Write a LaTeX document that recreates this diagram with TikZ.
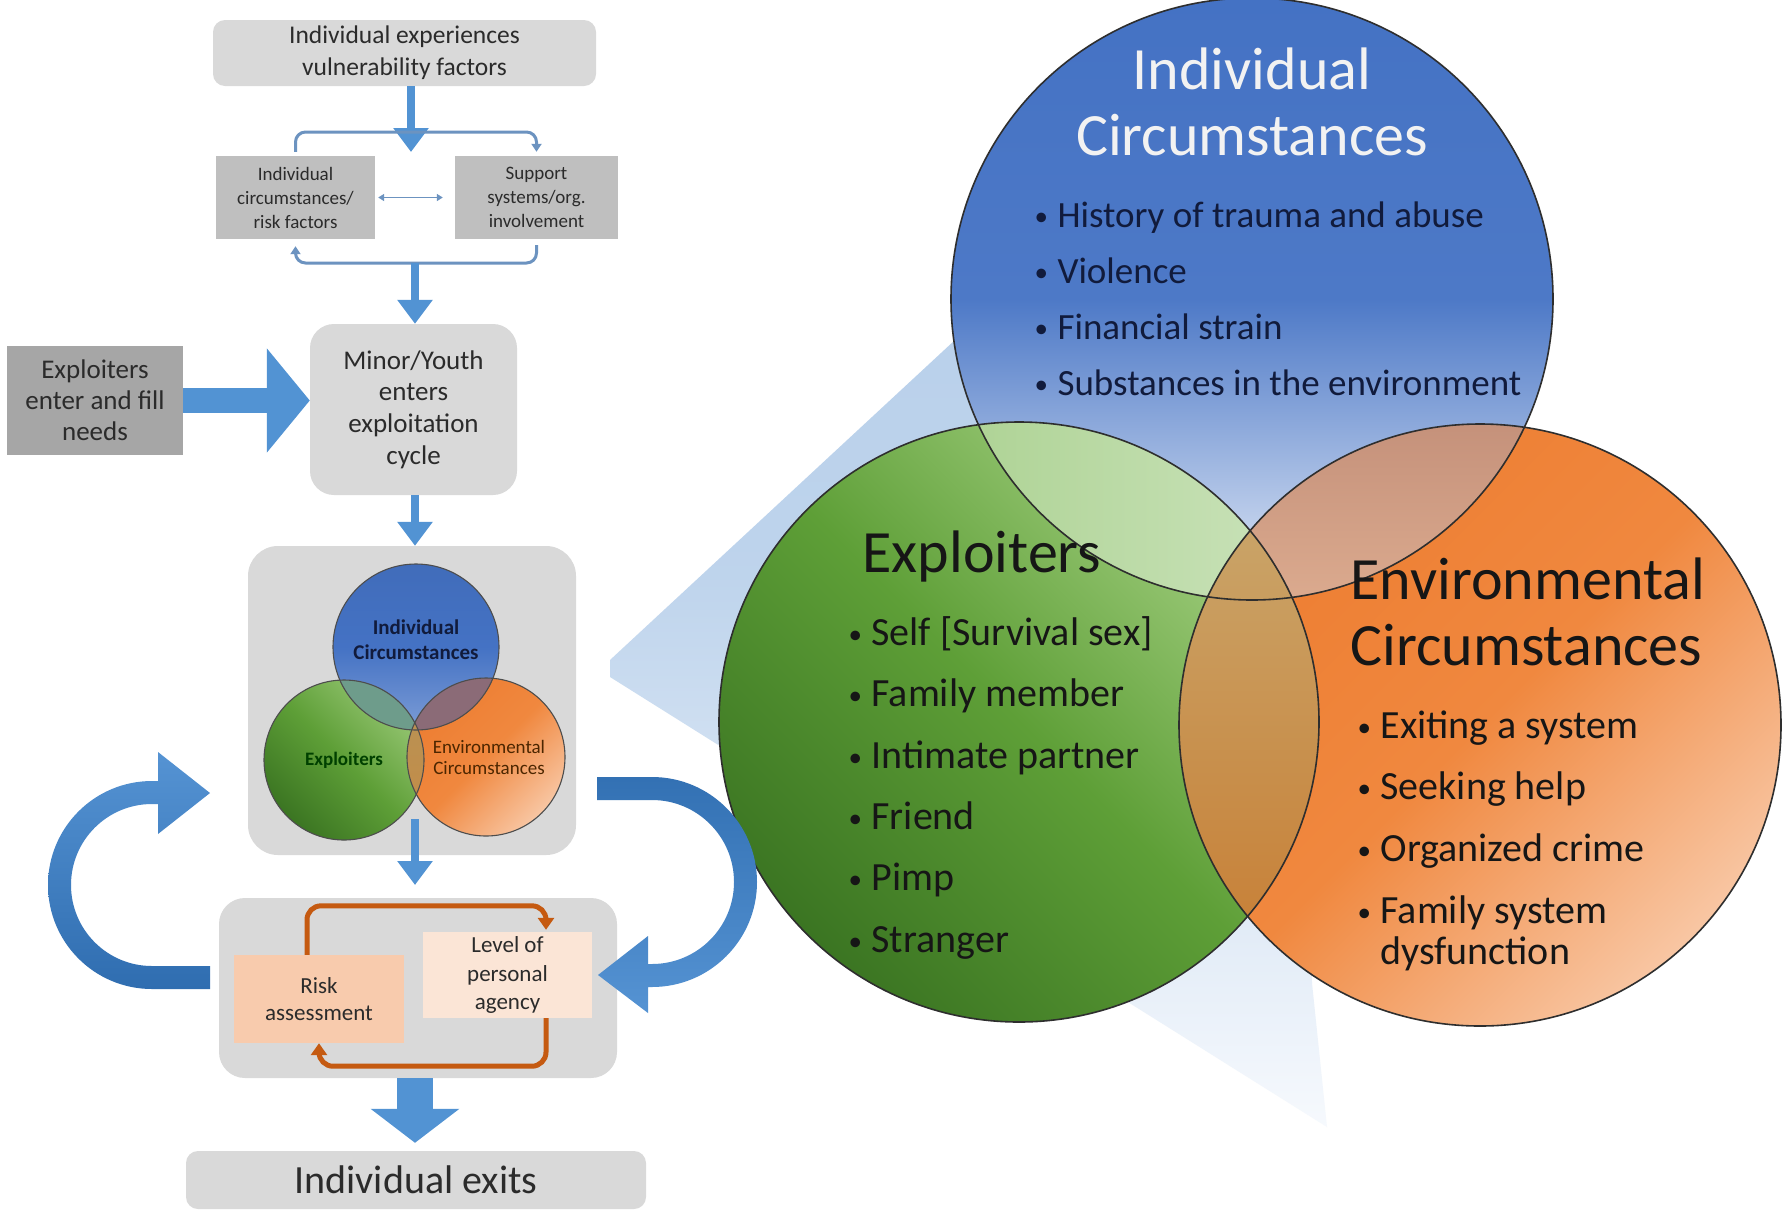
\documentclass[tikz,border=0pt]{standalone}
\usepackage{fontspec}
\setmainfont{Carlito}
\usetikzlibrary{arrows.meta}
\definecolor{boxlight}{HTML}{D9D9D9}
\definecolor{boxmid}{HTML}{BFBFBF}
\definecolor{boxdark}{HTML}{A6A6A6}
\definecolor{flowblue}{HTML}{5293D3}
\definecolor{brackblue}{HTML}{6C93C0}
\definecolor{txtgray}{HTML}{2B2B2B}
\definecolor{riskfill}{HTML}{F8CBAD}
\definecolor{levelfill}{HTML}{FBE5D6}
\definecolor{loopor}{HTML}{C55A11}
\definecolor{vblue}{HTML}{4472C4}
\definecolor{vbluelight}{HTML}{E4EBF7}
\definecolor{vgreendark}{HTML}{3B7522}
\definecolor{vgreen}{HTML}{5E9F37}
\definecolor{vgreenlight}{HTML}{A6D184}
\definecolor{vorange}{HTML}{ED7D31}
\definecolor{vorangemid}{HTML}{F0883F}
\definecolor{vorangelight}{HTML}{F8C6A3}
\definecolor{bgA}{HTML}{ACD292}
\definecolor{bgB}{HTML}{CDE4BE}
\definecolor{boA}{HTML}{C28E78}
\definecolor{boB}{HTML}{DCAB8F}
\definecolor{goA}{HTML}{C9AB72}
\definecolor{goB}{HTML}{B88848}
\definecolor{goC}{HTML}{C87B30}
\definecolor{sbg}{HTML}{6E9C8B}
\definecolor{sbo}{HTML}{8B6B77}
\definecolor{sgoA}{HTML}{B59558}
\definecolor{sgoB}{HTML}{C68A45}
\definecolor{navytxt}{HTML}{111B3C}
\definecolor{darktxt}{HTML}{161616}
\definecolor{wedgeA}{HTML}{B4CDE9}
\definecolor{wedgeB}{HTML}{F6F9FD}
\definecolor{outl}{HTML}{2E2E2E}
\definecolor{carrowA}{HTML}{5593D3}
\definecolor{carrowB}{HTML}{2F6DB0}
\newcommand\setfs[2]{\fontsize{#1}{#2}\selectfont}
\newcommand\myb[2][26pt]{\makebox[#1][l]{\raisebox{1.5pt}{\fontsize{27}{27}\selectfont •}}#2}
\begin{document}
\begin{tikzpicture}[x=1pt,y=-1pt,
  softbox/.style={fill=boxlight, rounded corners=#1, inner sep=0pt, text=txtgray, align=center},
  softbox/.default=12pt,
  sqbox/.style={fill=#1, inner sep=0pt, text=txtgray, align=center},
  flowarrow/.style={draw=flowblue, line width=8pt, -{Triangle[length=24pt,width=34pt]}},
  bracket/.style={draw=brackblue, line width=3pt, rounded corners=10pt, -{Triangle[length=8pt,width=10pt]}},
  dblarrow/.style={draw=brackblue, line width=1.5pt, {Triangle[length=6pt,width=7pt]}-{Triangle[length=6pt,width=7pt]}},
  loopline/.style={draw=loopor, line width=5pt, rounded corners=14pt, -{Triangle[length=12pt,width=16pt]}},
  vline/.style={draw=outl, line width=1.6pt},
  svline/.style={draw=outl!85!white, line width=1.1pt},
  bigtitle/.style={font=\setfs{60}{66}},
  bul/.style={anchor=base west, text=darktxt, font=\setfs{40}{44}},
  ibul/.style={anchor=base west, text=navytxt, font=\setfs{37}{42}},
]
\fill[white] (0,0) rectangle (1783,1211);
\useasboundingbox (0,0) rectangle (1783,1211);

% ---------- callout wedge ----------
\shade[top color=wedgeA, bottom color=wedgeB, middle color=wedgeA!85!wedgeB]
  (610,660) -- (1300,20) -- (1312,983) -- (1327,1127) -- (610,677) -- cycle;

% ---------- big Venn ----------
\coordinate (cb) at (1252,299);
\coordinate (cg) at (1019,722);
\coordinate (co) at (1480,725);
\shade[top color=vblue, bottom color=vbluelight, middle color=vblue!95!white] (cb) circle (301);
\shade[top color=vgreenlight, bottom color=vgreendark, middle color=vgreen, shading angle=-45] (cg) circle (300);
\shade[top color=vorange, bottom color=vorangelight, middle color=vorangemid, shading angle=45] (co) circle (301);
\begin{scope}
  \clip (cg) circle (300);
  \clip (cb) circle (301);
  \shade[left color=bgA, right color=bgB] (940,400) rectangle (1330,605);
\end{scope}
\begin{scope}
  \clip (co) circle (301);
  \clip (cb) circle (301);
  \shade[top color=boA, bottom color=boB] (1170,400) rectangle (1560,605);
\end{scope}
\begin{scope}
  \clip (cg) circle (300);
  \clip (co) circle (301);
  \shade[top color=goA, middle color=goB, bottom color=goC] (1170,440) rectangle (1330,1000);
\end{scope}
\draw[vline] (cb) circle (301);
\draw[vline] (cg) circle (300);
\draw[vline] (co) circle (301);

\node[bigtitle, text=white!95!black, anchor=base] (bt1) at (1252,89) {Individual};
\node[bigtitle, text=white!95!black, anchor=base] (bt2) at (1252,155) {Circumstances};
\node[ibul] (ib1) at (1031,227) {\myb[23pt]{History of trauma and abuse}};
\node[ibul] (ib2) at (1031,283) {\myb[23pt]{Violence}};
\node[ibul] (ib3) at (1031,339) {\myb[23pt]{Financial strain}};
\node[ibul] (ib4) at (1031,395) {\myb[23pt]{Substances in the environment}};

\node[bigtitle, text=darktxt, anchor=base] (gt1) at (982,572) {Exploiters};
\node[bul] (gb1) at (845,645) {\myb[23pt]{Self [Survival sex]}};
\node[bul] (gb2) at (845,706) {\myb[23pt]{Family member}};
\node[bul] (gb3) at (845,768) {\myb[23pt]{Intimate partner}};
\node[bul] (gb4) at (845,829) {\myb[23pt]{Friend}};
\node[bul] (gb5) at (845,890) {\myb[23pt]{Pimp}};
\node[bul] (gb6) at (845,952) {\myb[23pt]{Stranger}};

\node[bigtitle, text=darktxt, anchor=base west] (ot1) at (1347,599) {Environmental};
\node[bigtitle, text=darktxt, anchor=base west] (ot2) at (1347,665) {Circumstances};
\node[bul] (ob1) at (1354,738) {\myb[23pt]{Exiting a system}};
\node[bul] (ob2) at (1354,799) {\myb[23pt]{Seeking help}};
\node[bul] (ob3) at (1354,861) {\myb[23pt]{Organized crime}};
\node[bul] (ob4) at (1354,923) {\myb[23pt]{Family system}};
\node[bul] (ob5) at (1377,964) {dysfunction};

% ---------- left flow chart ----------
\node[softbox=12pt, minimum width=383pt, minimum height=66pt, font=\setfs{25.5}{32}] (top) at (404.5,53) {Individual experiences\\vulnerability factors};
\node[sqbox=boxmid, minimum width=159pt, minimum height=83pt, font=\setfs{19}{24}] (lb) at (295.5,197.5) {Individual\\circumstances/\\risk factors};
\node[sqbox=boxmid, minimum width=163pt, minimum height=83pt, font=\setfs{19}{24}] (rb) at (536.5,197.5) {Support\\systems/org.\\involvement};
\node[softbox=24pt, minimum width=207pt, minimum height=171pt, font=\setfs{27}{31.7}] (minor) at (413.5,409.5) {Minor/Youth\\enters\\exploitation\\cycle};
\node[sqbox=boxdark, minimum width=176pt, minimum height=109pt, font=\setfs{27}{31}] (expl) at (95,400.5) {Exploiters\\enter and fill\\needs};
\node[softbox=30pt, minimum width=328pt, minimum height=309pt] (vbox) at (412,700.5) {};
\node[softbox=26pt, minimum width=398pt, minimum height=180pt] (cyc) at (418,988) {};
\node[sqbox=riskfill, minimum width=170pt, minimum height=88pt, font=\setfs{23}{27}] (risk) at (319,999) {Risk\\assessment};
\node[sqbox=levelfill, minimum width=169pt, minimum height=86pt, font=\setfs{23}{28.5}] (level) at (507.5,975) {Level of\\personal\\agency};
\node[softbox=12pt, minimum width=460pt, minimum height=58pt, font=\setfs{40}{48}] (exits) at (416,1180) {Individual exits};

% small Venn
\coordinate (sb) at (416,647);
\coordinate (sg) at (344,760);
\coordinate (so) at (486,757);
\shade[top color=vblue!95!black, bottom color=vblue!70!white, middle color=vblue] (sb) circle (83);
\shade[top color=vgreenlight!80!vgreen, bottom color=vgreendark, middle color=vgreen, shading angle=-45] (sg) circle (80);
\shade[top color=vorange, bottom color=vorangelight, middle color=vorangemid, shading angle=45] (so) circle (79);
\begin{scope}
  \clip (sg) circle (80);
  \clip (sb) circle (83);
  \fill[sbg] (300,660) rectangle (440,740);
\end{scope}
\begin{scope}
  \clip (so) circle (79);
  \clip (sb) circle (83);
  \fill[sbo] (400,660) rectangle (520,740);
\end{scope}
\begin{scope}
  \clip (sg) circle (80);
  \clip (so) circle (79);
  \shade[top color=sgoA, bottom color=sgoB] (400,670) rectangle (430,840);
\end{scope}
\draw[svline] (sb) circle (83);
\draw[svline] (sg) circle (80);
\draw[svline] (so) circle (79);
\node[align=center, text=navytxt, font=\bfseries\setfs{21}{25}] (sl1) at (416,640) {Individual\\Circumstances};
\node[text=black!75!green, font=\bfseries\setfs{19}{24}] (sl2) at (344,760) {Exploiters};
\node[align=center, text=black!70!orange, font=\setfs{19}{21}] (sl3) at (489,757) {Environmental\\Circumstances};

% vertical flow arrows
\coordinate (a1end) at (411,152);
\coordinate (btop) at (411,132);
\coordinate (bbot) at (415,263);
\coordinate (a4s) at (415,819);
\coordinate (a4e) at (415,885);
\draw[flowarrow] (a1end |- top.south) -- (a1end);
\draw[bracket] ([yshift=4pt]lb.north) -- (lb.north |- btop) -- (rb.north |- btop) -- ([yshift=4pt]rb.north);
\draw[bracket] ([yshift=-6pt]rb.south) -- (rb.south |- bbot) -- (lb.south |- bbot) -- ([yshift=-7pt]lb.south);
\draw[dblarrow] ([xshift=3pt]lb.east) -- ([xshift=-12pt]rb.west);
\draw[flowarrow] (bbot) -- (bbot |- minor.north);
\draw[flowarrow] (bbot |- minor.south) -- (bbot |- vbox.north);
\draw[flowarrow] (a4s) -- (a4e);
\draw[draw=flowblue, line width=25pt, -{Triangle[length=43pt,width=102pt]}] (expl.east) -- (expl.east -| minor.west);
\draw[draw=flowblue, line width=36pt, -{Triangle[length=34pt,width=87pt]}] (bbot |- cyc.south) -- ([yshift=8pt]bbot |- exits.north);

% orange loops
\draw[loopline] ([xshift=-12pt]risk.north) -- ++(0,-49) -| ([xshift=38.5pt,yshift=2pt]level.north);
\draw[loopline] ([xshift=38.5pt]level.south) -- ++(0,48) -| (risk.south);

% big curved arrows
\shade[top color=carrowA, bottom color=carrowB]
  (210,989) -- (152,989) arc[start angle=90, end angle=270, radius=104]
  -- (158,781) -- (158,752) -- (210,793) -- (158,834) -- (158,804) -- (152,804)
  arc[start angle=270, end angle=90, radius=81] -- (210,966) -- cycle;
\shade[top color=carrowB!90!carrowA, bottom color=carrowA]
  (597,777) -- (652,777) arc[start angle=270, end angle=450, radius=105]
  -- (648,987) -- (648,1013) -- (598,975) -- (648,936) -- (648,964) -- (652,964)
  arc[start angle=90, end angle=-90, radius=82] -- (597,800) -- cycle;
\end{tikzpicture}
\end{document}
